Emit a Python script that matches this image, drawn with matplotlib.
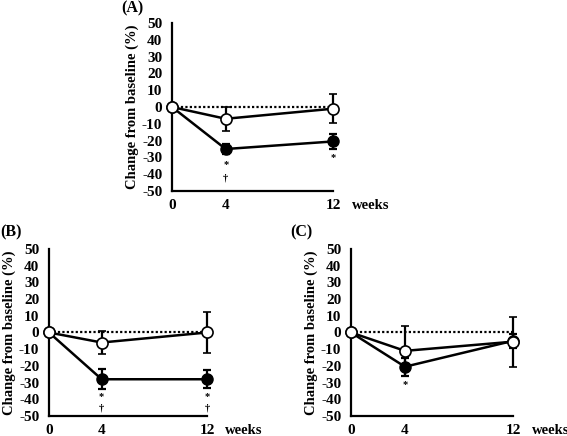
import matplotlib
matplotlib.use("Agg")
import matplotlib.pyplot as plt

plt.rcParams['font.family'] = ['Liberation Serif', 'DejaVu Serif']
plt.rcParams['font.weight'] = 'bold'

weeks = [0, 4, 12]
xtick_labels = ["0", "4", "12"]
yticks = [50, 40, 30, 20, 10, 0, -10, -20, -30, -40, -50]

# Panel A
a_open = [0, -7, -1]
a_open_err = [0, 7, 8.5]
a_fill = [0, -25, -20.5]
a_fill_err = [0, 3, 4.5]
a_marks = [(4, -34.5, "*"), (4, -42, "†"), (12, -30, "*")]

# Panel B
b_open = [0, -6, 0]
b_open_err = [0, 7, 12]
b_fill = [0, -28, -28]
b_fill_err = [0, 6, 5.5]
b_marks = [(4, -38.5, "*"), (4, -45.5, "†"), (12, -38.5, "*"), (12, -45.5, "†")]

# Panel C
c_open = [0, -11, -5.5]
c_open_err = [0, 15, 15]
c_fill = [0, -20.5, -5]
c_fill_err = [0, 5.5, 4]
c_marks = [(4, -31, "*")]

fig = plt.figure(figsize=(5.67, 4.36), dpi=100)

def panel(rect, label, label_xy, op, ope, fi, fie, marks):
    ax = fig.add_axes(rect)
    ax.set_xlim(0, 12)
    ax.set_ylim(-50, 50)
    ax.plot([0, 12], [0, 0], color='black', linestyle=(0, (1, 1)), lw=1.6, zorder=1)
    ax.errorbar(weeks, fi, yerr=fie, color='black', lw=1.8, marker='o',
                markersize=8, markerfacecolor='black', markeredgecolor='black',
                capsize=3, capthick=1.6, elinewidth=1.6, clip_on=False, zorder=2)
    ax.errorbar(weeks, op, yerr=ope, color='black', lw=1.8, marker='o',
                markersize=8, markerfacecolor='white', markeredgecolor='black',
                markeredgewidth=1.2, capsize=3, capthick=1.6, elinewidth=1.6,
                clip_on=False, zorder=3)
    for (x, y, s) in marks:
        ax.text(x, y, s, ha='center', va='center', fontsize=7.5, fontweight='bold')
    for s in ['top', 'right']:
        ax.spines[s].set_visible(False)
    for s in ['left', 'bottom']:
        ax.spines[s].set_linewidth(1.6)
    ax.set_xticks(weeks)
    ax.set_xticklabels(xtick_labels, fontsize=11, fontweight='bold')
    ax.set_yticks(yticks)
    ax.set_yticklabels([str(v) for v in yticks], fontsize=11, fontweight='bold')
    ax.tick_params(axis='both', length=0)
    ax.tick_params(axis='y', pad=7)
    ax.tick_params(axis='x', pad=6)
    ax.set_ylabel("Change from baseline (%)", fontsize=10.5, fontweight='bold', labelpad=2)
    ax.text(1.115, -0.085, "weeks", transform=ax.transAxes, ha='left', va='center',
            fontsize=10.5, fontweight='bold')
    fig.text(label_xy[0], label_xy[1], label, ha='left', va='center',
             fontsize=11.5, fontweight='bold')
    return ax

panel([0.3034, 0.5619, 0.2840, 0.3853], "(A)", (0.213, 0.981), a_open, a_open_err, a_fill, a_fill_err, a_marks)
panel([0.0864, 0.0459, 0.2787, 0.3830], "(B)", (0.0, 0.466), b_open, b_open_err, b_fill, b_fill_err, b_marks)
panel([0.6190, 0.0459, 0.2857, 0.3830], "(C)", (0.512, 0.466), c_open, c_open_err, c_fill, c_fill_err, c_marks)

fig.savefig("out.png", dpi=100)
